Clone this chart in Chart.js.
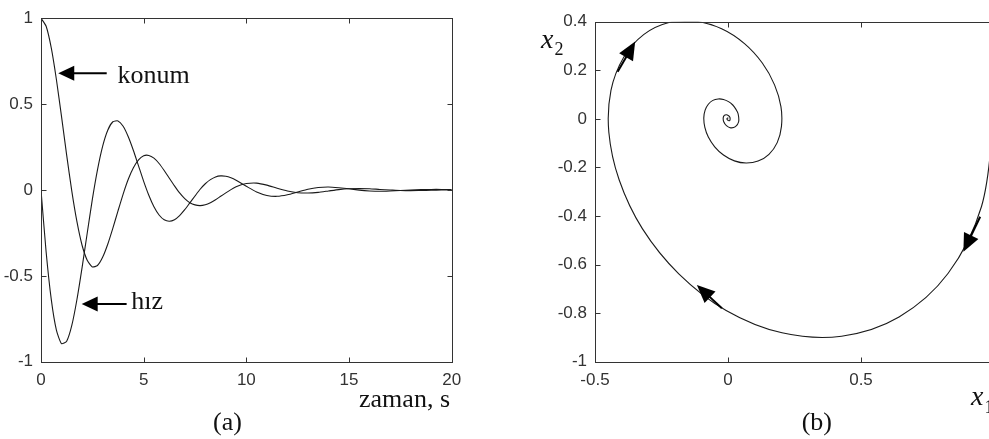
<!DOCTYPE html>
<html><head><meta charset="utf-8">
<script src="https://cdn.jsdelivr.net/npm/chart.js@4.4.1/dist/chart.umd.min.js"></script>
<style>
html,body{margin:0;padding:0;background:#fff;overflow:hidden;width:989px;height:439px;position:relative}
canvas{position:absolute;top:0}
#ca{left:0}
#cb{left:490px}
</style></head><body>
<canvas id="ca" width="480" height="439"></canvas>
<canvas id="cb" width="520" height="439"></canvas>
<script>
// ---- data ----
const time = [0,0.25,0.5,0.75,1,1.25,1.5,1.75,2,2.25,2.5,2.75,3,3.25,3.5,3.75,4,4.25,4.5,4.75,5,5.25,5.5,5.75,6,6.25,6.5,6.75,7,7.25,7.5,7.75,8,8.25,8.5,8.75,9,9.25,9.5,9.75,10,10.5,11,11.5,12,12.5,13,13.5,14,14.5,15,15.5,16,16.5,17,17.5,18,18.5,19,19.5,20];
const konum = [1,0.953,0.827,0.643,0.427,0.203,-0.007,-0.185,-0.322,-0.409,-0.448,-0.440,-0.392,-0.316,-0.222,-0.122,-0.024,0.062,0.129,0.175,0.199,0.201,0.185,0.154,0.113,0.068,0.024,-0.017,-0.050,-0.074,-0.087,-0.091,-0.086,-0.074,-0.057,-0.037,-0.017,0.002,0.018,0.030,0.038,0.040,0.028,0.010,-0.006,-0.016,-0.018,-0.014,-0.006,0.002,0.007,0.008,0.007,0.003,0.000,-0.003,-0.004,-0.003,-0.002,0.000,0.001];
const hiz = [0,-0.361,-0.637,-0.816,-0.895,-0.881,-0.789,-0.638,-0.452,-0.252,-0.055,0.117,0.254,0.348,0.397,0.402,0.371,0.310,0.230,0.140,0.050,-0.031,-0.098,-0.146,-0.174,-0.182,-0.173,-0.149,-0.115,-0.075,-0.035,0.004,0.036,0.060,0.076,0.082,0.080,0.071,0.057,0.039,0.021,-0.012,-0.032,-0.037,-0.028,-0.012,0.004,0.014,0.017,0.013,0.007,-0.001,-0.006,-0.008,-0.006,-0.003,0.000,0.002,0.003,0.003,0.002];
const ticksAx = [0,5,10,15,20];
const ticksAy = [-1,-0.5,0,0.5,1];
const ticksBx = [-0.5,0,0.5];
const ticksBy = [-1,-0.8,-0.6,-0.4,-0.2,0,0.2,0.4];

const INK = '#1a1a1a';
const SERIF = '"Liberation Serif", "Times New Roman", serif';

function arrow(ctx, x0, y0, x1, y1, hl, hw) {
  const ang = Math.atan2(y1 - y0, x1 - x0);
  const c = Math.cos(ang), s = Math.sin(ang);
  const bx = x1 - hl * c, by = y1 - hl * s;
  ctx.beginPath(); ctx.moveTo(x0, y0); ctx.lineTo(bx + 2 * c, by + 2 * s);
  ctx.lineWidth = 2; ctx.stroke();
  ctx.beginPath(); ctx.moveTo(x1, y1);
  ctx.lineTo(bx + hw * s, by - hw * c);
  ctx.lineTo(bx - hw * s, by + hw * c);
  ctx.closePath(); ctx.fill();
}

const decor = {
  id: 'decor',
  afterDatasetsDraw(chart, args, o) {
    const ctx = chart.ctx, a = chart.chartArea;
    const xs = chart.scales.x, ys = chart.scales.y;
    ctx.save();
    ctx.strokeStyle = '#333'; ctx.lineWidth = 1;
    const L = Math.round(a.left) + 0.5, T = Math.round(a.top) + 0.5;
    const R = Math.round(a.right) + 0.5, B = Math.round(a.bottom) + 0.5;
    ctx.strokeRect(L, T, R - L, B - T);
    // inside tick marks on all four sides
    ctx.beginPath();
    o.xt.forEach(v => { const p = Math.round(xs.getPixelForValue(v)) + 0.5;
      ctx.moveTo(p, B); ctx.lineTo(p, B - 5); ctx.moveTo(p, T); ctx.lineTo(p, T + 5); });
    o.yt.forEach(v => { const p = Math.round(ys.getPixelForValue(v)) + 0.5;
      ctx.moveTo(L, p); ctx.lineTo(L + 5, p); ctx.moveTo(R, p); ctx.lineTo(R - 5, p); });
    ctx.stroke();
    // arrows
    ctx.strokeStyle = '#000'; ctx.fillStyle = '#000';
    (o.arrows || []).forEach(ar => arrow(ctx,
      xs.getPixelForValue(ar.from[0]), ys.getPixelForValue(ar.from[1]),
      xs.getPixelForValue(ar.to[0]), ys.getPixelForValue(ar.to[1]), ar.hl, ar.hw));
    // texts in data coordinates
    ctx.fillStyle = '#111'; ctx.textBaseline = 'alphabetic';
    (o.notes || []).forEach(n => {
      ctx.font = n.font; ctx.textAlign = 'left';
      ctx.fillText(n.text, xs.getPixelForValue(n.at[0]), ys.getPixelForValue(n.at[1]));
    });
    // texts placed relative to the plot box
    (o.labels || []).forEach(n => {
      ctx.font = n.font; ctx.textAlign = n.align || 'left';
      const x = (n.ref === 'right' ? a.right : a.left) + n.dx;
      const y = (n.vref === 'top' ? a.top : a.bottom) + n.dy;
      ctx.fillText(n.text, x, y);
    });
    ctx.restore();
  }
};

function scaleOpts(min, max, tickVals, fit) {
  return {
    type: 'linear', min, max,
    afterBuildTicks: s => { s.ticks = tickVals.map(v => ({ value: v })); },
    afterFit: fit,
    grid: { display: false, drawTicks: false },
    border: { display: false },
    ticks: { color: '#333', font: { family: '"Liberation Sans", Arial, sans-serif', size: 17 },
             padding: 8, autoSkip: false, maxRotation: 0, callback: v => String(v) }
  };
}

const lineStyle = { borderColor: INK, borderWidth: 1.1, pointRadius: 0, fill: false, showLine: true };

new Chart(document.getElementById('ca'), {
  type: 'scatter',
  data: { datasets: [
    Object.assign({ label: 'konum', data: time.map((t, i) => ({ x: t, y: konum[i] })), tension: 0.2 }, lineStyle),
    Object.assign({ label: 'hız', data: time.map((t, i) => ({ x: t, y: hiz[i] })), tension: 0.2 }, lineStyle)
  ]},
  options: {
    responsive: false, animation: false, devicePixelRatio: 1,
    layout: { padding: { top: 14.3, right: 28.3, left: 0, bottom: 0 } },
    scales: {
      x: scaleOpts(0, 20, ticksAx, s => { s.height = 77.3; }),
      y: scaleOpts(-1, 1, ticksAy, s => { s.width = 41; })
    },
    plugins: {
      legend: { display: false }, tooltip: { enabled: false },
      decor: {
        xt: ticksAx, yt: ticksAy,
        arrows: [
          { from: [3.20, 0.679], to: [0.84, 0.679], hl: 16, hw: 7.5 },
          { from: [4.17, -0.664], to: [1.98, -0.664], hl: 16, hw: 7.5 }
        ],
        notes: [
          { text: 'konum', at: [3.73, 0.622], font: '26px ' + SERIF },
          { text: 'hız', at: [4.40, -0.693], font: '26px ' + SERIF }
        ],
        labels: [
          { text: 'zaman, s', ref: 'right', dx: -1.7, dy: 45, align: 'right', font: '26px ' + SERIF },
          { text: '(a)', ref: 'left', dx: 172, dy: 68.3, font: '26px ' + SERIF }
        ]
      }
    }
  },
  plugins: [decor]
});

new Chart(document.getElementById('cb'), {
  type: 'scatter',
  data: { datasets: [
    Object.assign({ label: 'faz', data: konum.map((k, i) => ({ x: k, y: hiz[i] })), tension: 0.35 }, lineStyle)
  ]},
  options: {
    responsive: false, animation: false, devicePixelRatio: 1,
    layout: { padding: { top: 21.7, right: 16, left: 0, bottom: 0 } },
    scales: {
      x: scaleOpts(-0.5, 1, ticksBx, s => { s.height = 77.3; }),
      y: scaleOpts(-1, 0.4, ticksBy, s => { s.width = 105; })
    },
    plugins: {
      legend: { display: false }, tooltip: { enabled: false },
      decor: {
        xt: ticksBx, yt: ticksBy,
        arrows: [
          { from: [0.948, -0.403], to: [0.885, -0.547], hl: 18, hw: 8 },
          { from: [-0.023, -0.780], to: [-0.117, -0.684], hl: 18, hw: 8 },
          { from: [-0.415, 0.194], to: [-0.349, 0.318], hl: 18, hw: 8 }
        ],
        labels: [
          { text: 'x', ref: 'left', vref: 'top', dx: -54, dy: 26.6, font: 'italic 28px ' + SERIF },
          { text: '2', ref: 'left', vref: 'top', dx: -40.5, dy: 33.5, font: '18px ' + SERIF },
          { text: 'x', ref: 'right', dx: -23, dy: 43.3, font: 'italic 28px ' + SERIF },
          { text: '1', ref: 'right', dx: -9.5, dy: 51, font: '18px ' + SERIF },
          { text: '(b)', ref: 'left', dx: 206.7, dy: 68.3, font: '26px ' + SERIF }
        ]
      }
    }
  },
  plugins: [decor]
});
</script>
</body></html>
